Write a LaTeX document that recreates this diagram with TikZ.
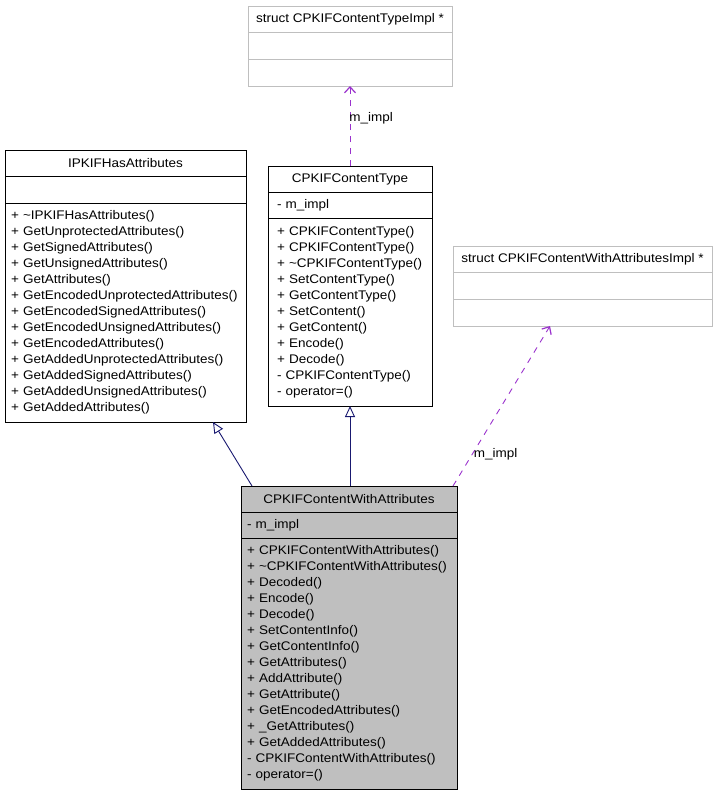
\documentclass[tikz,border=0pt]{standalone}
\usepackage{fontspec}
\setmainfont{Liberation Sans}[FakeStretch=1.08]
\usetikzlibrary{arrows.meta,positioning}
\definecolor{inherit}{HTML}{191970}
\definecolor{usage}{HTML}{9A32CD}
\definecolor{implgray}{HTML}{BFBFBF}
\definecolor{selfgray}{HTML}{BFBFBF}
\tikzset{
  clsbox/.style={draw=#1,line width=0.9pt,outer sep=0pt,inner xsep=0pt,inner ysep=2pt,
    text=black},
  clsbox/.default=black,
  clshead/.style={clsbox=#1,minimum height=26pt,align=center},
  clshead/.default=black,
  isa/.style={-{Triangle[open,length=11pt,width=10pt]},line width=0.9pt,draw=inherit},
  uses/.style={-{Straight Barb[length=6pt,width=11pt,line width=1.2pt]},line width=0.9pt,
    draw=usage,dash pattern=on 6pt off 6pt},
  lbl/.style={inner sep=1pt,anchor=west,text=black},
}

\begin{document}
\begin{tikzpicture}[x=1pt,y=-1pt,font=\fontsize{12.5}{16}\selectfont]
  \useasboundingbox (0,0) rectangle (717,795);

  % struct CPKIFContentTypeImpl
  \node[clshead=implgray,minimum width=204pt,anchor=north] (ctiHead) at (350,6)
    {struct CPKIFContentTypeImpl *};
  \node[clsbox=implgray,minimum width=204pt,minimum height=27pt,below=0pt of ctiHead] (ctiAttr) {};
  \node[clsbox=implgray,minimum width=204pt,minimum height=27pt,below=0pt of ctiAttr] (ctiOps) {};

  % IPKIFHasAttributes
  \node[clshead,minimum width=241pt,anchor=north] (hasHead) at (125.5,150) {IPKIFHasAttributes};
  \node[clsbox,minimum width=241pt,minimum height=27pt,below=0pt of hasHead] (hasAttr) {};
  \node[clsbox,minimum width=241pt,minimum height=219pt,text width=229pt,align=left,
    below=0pt of hasAttr] (hasOps)
    {+~\textasciitilde IPKIFHasAttributes()\\
     +~GetUnprotectedAttributes()\\
     +~GetSignedAttributes()\\
     +~GetUnsignedAttributes()\\
     +~GetAttributes()\\
     +~GetEncodedUnprotectedAttributes()\\
     +~GetEncodedSignedAttributes()\\
     +~GetEncodedUnsignedAttributes()\\
     +~GetEncodedAttributes()\\
     +~GetAddedUnprotectedAttributes()\\
     +~GetAddedSignedAttributes()\\
     +~GetAddedUnsignedAttributes()\\
     +~GetAddedAttributes()};

  % CPKIFContentType
  \node[clshead,minimum width=164pt,anchor=north] (ctHead) at (350,166) {CPKIFContentType};
  \node[clsbox,minimum width=164pt,minimum height=26pt,text width=146pt,align=left,
    below=0pt of ctHead] (ctAttr) {-~m\_impl};
  \node[clsbox,minimum width=164pt,minimum height=188pt,text width=146pt,align=left,
    below=0pt of ctAttr] (ctOps)
    {+~CPKIFContentType()\\
     +~CPKIFContentType()\\
     +~\textasciitilde CPKIFContentType()\\
     +~SetContentType()\\
     +~GetContentType()\\
     +~SetContent()\\
     +~GetContent()\\
     +~Encode()\\
     +~Decode()\\
     -~CPKIFContentType()\\
     -~operator=()};

  % struct CPKIFContentWithAttributesImpl
  \node[clshead=implgray,minimum width=259pt,anchor=north] (cwiHead) at (582.5,246)
    {struct CPKIFContentWithAttributesImpl *};
  \node[clsbox=implgray,minimum width=259pt,minimum height=27pt,below=0pt of cwiHead] (cwiAttr) {};
  \node[clsbox=implgray,minimum width=259pt,minimum height=27pt,below=0pt of cwiAttr] (cwiOps) {};

  % CPKIFContentWithAttributes
  \node[clshead,fill=selfgray,minimum width=216pt,anchor=north] (cwaHead) at (349,486)
    {CPKIFContentWithAttributes};
  \node[clsbox,fill=selfgray,minimum width=216pt,minimum height=26pt,text width=204pt,align=left,
    below=0pt of cwaHead] (cwaAttr) {-~m\_impl};
  \node[clsbox,fill=selfgray,minimum width=216pt,minimum height=251pt,text width=204pt,align=left,
    below=0pt of cwaAttr] (cwaOps)
    {+~CPKIFContentWithAttributes()\\
     +~\textasciitilde CPKIFContentWithAttributes()\\
     +~Decoded()\\
     +~Encode()\\
     +~Decode()\\
     +~SetContentInfo()\\
     +~GetContentInfo()\\
     +~GetAttributes()\\
     +~AddAttribute()\\
     +~GetAttribute()\\
     +~GetEncodedAttributes()\\
     +~\_GetAttributes()\\
     +~GetAddedAttributes()\\
     -~CPKIFContentWithAttributes()\\
     -~operator=()};

  % relations
  \draw[isa] ([xshift=11pt]cwaHead.north west) -- ([xshift=-33pt]hasOps.south east);
  \draw[isa] (ctOps.south |- cwaHead.north) -- (ctOps.south);
  \draw[uses] ([xshift=-4pt]cwaHead.north east) -- ([xshift=97pt]cwiOps.south west)
    node[lbl,pos=0.2] {m\_impl};
  \draw[uses] (ctHead.north) -- (ctiOps.south) node[lbl,pos=0.6,xshift=-2pt] {m\_impl};
\end{tikzpicture}
\end{document}
